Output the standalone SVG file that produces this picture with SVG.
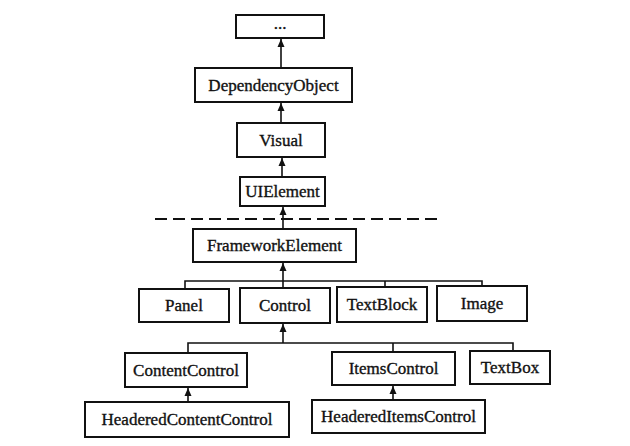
<svg xmlns="http://www.w3.org/2000/svg" width="630" height="446" viewBox="0 0 630 446">
<style>
.box{fill:#fff;stroke:#111;stroke-width:2}
.t{font-family:"Liberation Serif","Times New Roman",serif;font-size:17px;fill:#111;stroke:#111;stroke-width:0.35;text-anchor:middle;dominant-baseline:central}
.ln{fill:none;stroke:#111;stroke-width:1.6}
.arr{fill:none;stroke:#111;stroke-width:1.6;marker-end:url(#ah)}
</style>
<defs>
<marker id="ah" viewBox="0 0 8 10" refX="8" refY="5" markerWidth="8" markerHeight="10" markerUnits="userSpaceOnUse" orient="auto">
<path d="M0,1.5 L8,5 L0,8.5 Z" fill="#111"/>
</marker>
</defs>
<rect width="630" height="446" fill="#fff"/>
<g id="connectors">
<line class="arr" x1="281" y1="68" x2="281" y2="39"/>
<line class="arr" x1="281" y1="123" x2="281" y2="103"/>
<line class="arr" x1="282" y1="177" x2="282" y2="158"/>
<line class="arr" x1="283" y1="229" x2="283" y2="207"/>
<line x1="155" y1="219" x2="440" y2="219" stroke="#111" stroke-width="2" stroke-dasharray="12 6"/>
<polyline class="ln" points="185,289 185,281 482,281 482,286"/>
<line class="ln" x1="385" y1="281" x2="385" y2="287"/>
<line class="arr" x1="283" y1="288" x2="283" y2="263"/>
<polyline class="ln" points="188,353 188,343 513,343 513,351"/>
<line class="ln" x1="393" y1="343" x2="393" y2="352"/>
<line class="arr" x1="283" y1="343" x2="283" y2="324"/>
<line class="arr" x1="188" y1="402" x2="188" y2="388"/>
<line class="arr" x1="393" y1="400" x2="393" y2="386"/>
</g>
<g id="n_dots"><rect class="box" x="236" y="15" width="88" height="23"/><text class="t" x="280" y="23">...</text></g>
<g id="n_dependencyobject"><rect class="box" x="195" y="68" width="157" height="34"/><text class="t" x="273.5" y="85">DependencyObject</text></g>
<g id="n_visual"><rect class="box" x="237" y="123" width="88" height="34"/><text class="t" x="281" y="140">Visual</text></g>
<g id="n_uielement"><rect class="box" x="240" y="177" width="85" height="29"/><text class="t" x="282.5" y="191.5">UIElement</text></g>
<g id="n_frameworkelement"><rect class="box" x="193" y="229" width="163" height="33"/><text class="t" x="274.5" y="245.5">FrameworkElement</text></g>
<g id="n_panel"><rect class="box" x="139" y="289" width="90" height="33"/><text class="t" x="184" y="305.5">Panel</text></g>
<g id="n_control"><rect class="box" x="240" y="288" width="90" height="35"/><text class="t" x="285" y="305.5">Control</text></g>
<g id="n_textblock"><rect class="box" x="337" y="287" width="90" height="35"/><text class="t" x="382" y="304.5">TextBlock</text></g>
<g id="n_image"><rect class="box" x="437" y="286" width="90" height="35"/><text class="t" x="482" y="303.5">Image</text></g>
<g id="n_contentcontrol"><rect class="box" x="125" y="353" width="122" height="34"/><text class="t" x="186" y="370">ContentControl</text></g>
<g id="n_itemscontrol"><rect class="box" x="332" y="352" width="123" height="33"/><text class="t" x="393.5" y="368.5">ItemsControl</text></g>
<g id="n_textbox"><rect class="box" x="470" y="351" width="80" height="33"/><text class="t" x="510" y="367.5">TextBox</text></g>
<g id="n_headeredcontentcontrol"><rect class="box" x="85" y="402" width="204" height="35"/><text class="t" x="187" y="419.5">HeaderedContentControl</text></g>
<g id="n_headereditemscontrol"><rect class="box" x="312" y="400" width="173" height="33"/><text class="t" x="398.5" y="416.5">HeaderedItemsControl</text></g>
</svg>
